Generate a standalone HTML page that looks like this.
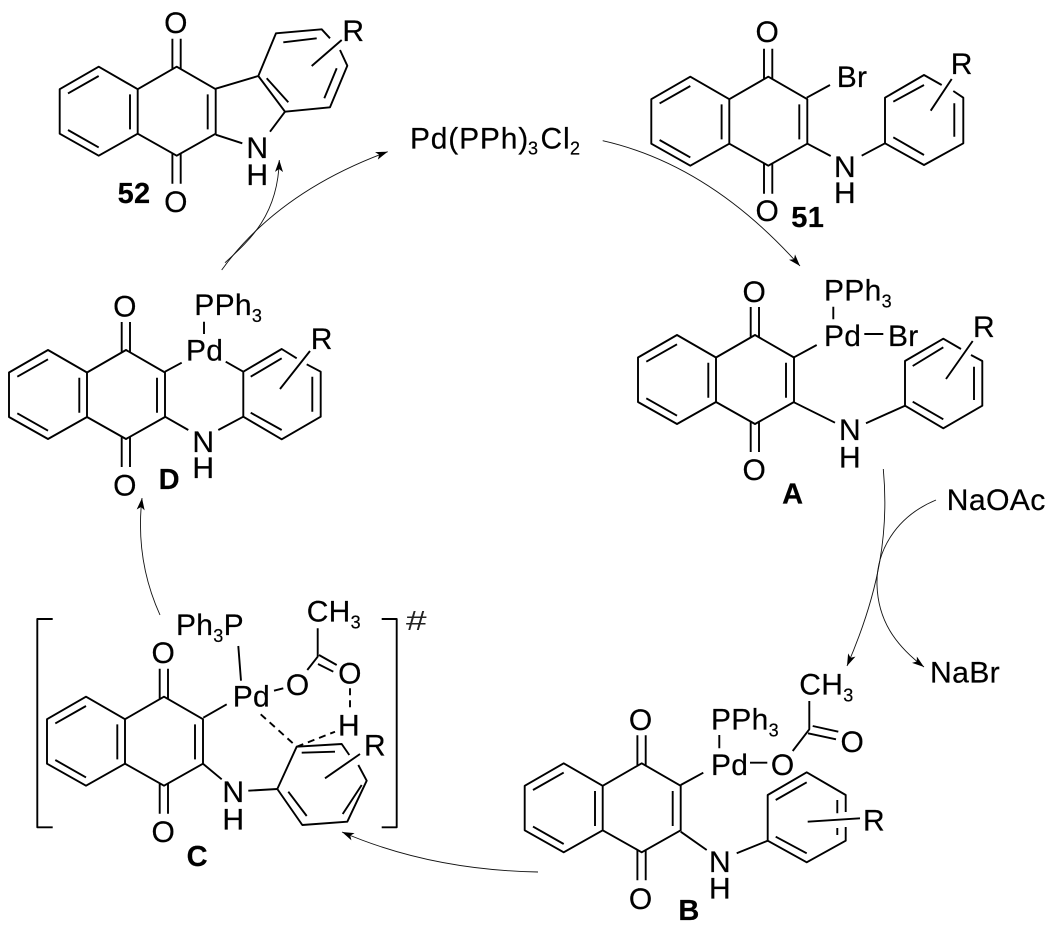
<!DOCTYPE html>
<html><head><meta charset="utf-8"><style>
html,body{margin:0;padding:0;background:#fff}
svg{display:block}
text{font-family:"Liberation Sans",sans-serif;font-size:30px;letter-spacing:.3px;fill:#000;stroke:#000;stroke-width:.2}
.b{font-weight:bold;font-size:29px;text-anchor:middle}
.m{text-anchor:middle}
.s{font-size:18px}
.bond{stroke:#000;stroke-width:1.9;fill:none;stroke-linejoin:round}
.arr{stroke:#111;stroke-width:.9;fill:none}
</style></head><body>
<svg width="1056" height="938" viewBox="0 0 1056 938" xmlns="http://www.w3.org/2000/svg">
<defs>
<marker id="h" markerUnits="userSpaceOnUse" markerWidth="14" markerHeight="10" refX="12" refY="4" orient="auto"><path d="M0,0L12,4L0,8L3,4z" fill="#000"/></marker>
<g id="nq">
<path d="M-39,22.5L-78,0L-117,22.5V67L-78,89L-39,67L0,89L39,67V22.5L0,0L-39,22.5V67"/>
<path d="M-108.7,26.7L-78,9.3M-108.7,63.3L-78,80.7M-46.7,27.7V62.7M31,27.7V62.7"/>
<path d="M-4.3,2V-28M4,2V-28M-4.3,87V117M4,87V117"/>
</g>
</defs>

<!-- 52 -->
<g class="bond">
<use href="#nq" x="176.7" y="66.7"/>
<path d="M215.7,88.7L258.3,76L276,33.3L321.7,29.3L330,38.3M340,50L347.3,65.7L330,107.3L285,111.7L258.3,76"/>
<path d="M266.7,78.3L288.3,102.3M283.3,42.3L316.7,38.3M336.7,68.3L324.3,98.3"/>
<path d="M285,111.7L270,131.7M215.7,134.7L242.3,143.3M311.7,66L341.7,40"/>
</g>
<text class="m" x="176" y="33">O</text><text class="m" x="176" y="212">O</text>
<text class="m" x="353.3" y="41">R</text><text class="m" x="257.3" y="158">N</text><text class="m" x="257.3" y="185">H</text>
<text class="b" x="134" y="203">52</text>

<!-- Pd cat -->
<text x="410" y="148.5" style="letter-spacing:.8px">Pd(PPh)<tspan class="s" x="528" y="154.5">3</tspan><tspan x="540.5" y="148.5">Cl</tspan><tspan class="s" x="570" y="154.5">2</tspan></text>

<!-- 51 -->
<g class="bond">
<use href="#nq" x="768.3" y="76.7"/>
<path d="M806.7,97.7L830,85M806.7,143.3L830.7,156M861.7,155.7L885,143.3"/>
<path d="M885,143.3V97.7L924,75L941.7,85M953.3,91L963.3,97.7V143.3L924,165L885,143.3"/>
<path d="M893.3,101.7L924,85M954.3,103.3V136.7M893.3,137.3L924,155M930.7,110.7L951.7,79"/>
</g>
<text class="m" x="767.3" y="42">O</text><text class="m" x="767.3" y="221">O</text>
<text x="836.7" y="87">Br</text><text class="m" x="845" y="177">N</text><text class="m" x="845" y="203">H</text>
<text class="m" x="961.7" y="74">R</text>
<text class="b" x="807.7" y="227">51</text>

<!-- A -->
<g class="bond">
<use href="#nq" x="755" y="335"/>
<path d="M833.3,306.7V319.3M864.3,334H883.3M794,357.3L816.7,345M794,402.3L835,422.7M866,423.3L905,405.7"/>
<path d="M905,405.7V361L943.3,338.7L961,349M971,355L982.3,361V405.7L943.3,428.3L905,405.7"/>
<path d="M912.7,366L943.3,347.3M974,366.7V400M912.7,401.7L943.3,419.3M946,379L972.7,341"/>
</g>
<text class="m" x="754.3" y="302">O</text><text class="m" x="754.3" y="480">O</text>
<text x="824" y="300.7">PPh<tspan class="s" dy="7">3</tspan></text>
<text x="824" y="346">Pd</text><text x="888" y="346">Br</text>
<text class="m" x="850" y="440">N</text><text class="m" x="850" y="467.5">H</text>
<text class="m" x="984" y="337">R</text>
<text class="b" x="792.7" y="503.5">A</text>

<!-- B -->
<g class="bond">
<use href="#nq" x="641.7" y="763.3"/>
<path d="M719.3,735V748.3M680.7,785L703.3,772.7M750,762.7H767.3M792.7,751L809.3,729.3V701M812.7,726L838.3,731.7M808,733.3L836,739.3"/>
<path d="M680.7,831.7L706.7,850M736.7,853.3L767.7,840.7"/>
<path d="M767.7,840.7V795L806.7,772.3L845.7,795V812M845.7,827V840.7L806.7,862.3L767.7,840.7"/>
<path d="M775.7,800L806.7,782.3M837.3,800V813.3M837.3,828V835M775.7,836.7L806.7,853.3M807.7,821.7L860,818.3"/>
</g>
<text class="m" x="640.7" y="730">O</text><text class="m" x="640.7" y="909">O</text>
<text x="711" y="729.3">PPh<tspan class="s" dy="7">3</tspan></text>
<text x="711" y="775">Pd</text><text class="m" x="782.7" y="775">O</text><text class="m" x="852.3" y="752">O</text>
<text x="799.3" y="694.3">CH<tspan class="s" dy="7">3</tspan></text>
<text class="m" x="720" y="872">N</text><text class="m" x="720" y="898.5">H</text>
<text class="m" x="874" y="830.5">R</text>
<text class="b" x="689" y="920">B</text>

<!-- C -->
<g class="bond">
<use href="#nq" x="164" y="696.7"/>
<path d="M52.7,619H37.3V827.3H52.7M381.7,619H396.7V827.3H381.7"/>
<path d="M238.3,646L241,680.7M203.3,717.7L226.7,704.3M274,690.7L283.3,688.3M307.3,670L317.7,656.7V628.3M319,655L336.7,665M318,664L333.3,671.7"/>
<path d="M203.3,764L221.7,779.3M248.3,790.7L277.3,789"/>
<path d="M277.3,789L296.7,746.7L341.7,744L349.3,755M358.3,765L366.7,780.7L347.3,821.7L302.3,825L277.3,789"/>
<path d="M301.7,752.7L335,751.7M361.7,785L342.7,814M288.3,791.7L306.7,816M325,778.3L360,754"/>
<path stroke-dasharray="7 5" d="M350,688.3V710M296.7,746.7L335,731.7M260.7,714.3L296.7,746.7"/>
</g>
<text class="m" x="163.3" y="663">O</text><text class="m" x="163.3" y="842">O</text>
<text x="176" y="635">Ph<tspan class="s" dy="7">3</tspan><tspan dy="-7">P</tspan></text>
<text x="232.7" y="706.7">Pd</text><text class="m" x="297.7" y="695">O</text><text class="m" x="350" y="683.5">O</text>
<text x="306.7" y="621.7">CH<tspan class="s" dy="7">3</tspan></text>
<text class="m" x="349" y="735.5">H</text><text class="m" x="375" y="755.5">R</text>
<text class="m" x="233.3" y="802">N</text><text class="m" x="233.3" y="829.5">H</text>
<text x="406" y="630" textLength="21" lengthAdjust="spacingAndGlyphs" style="font-size:28px;fill:#222;stroke:none">#</text>
<text class="b" x="197.3" y="866">C</text>

<!-- D -->
<g class="bond">
<use href="#nq" x="126" y="350"/>
<path d="M204,321.7V334M165,371.7L181.7,362.7M225.7,361.7L243.3,371.7M165,416.7L188.3,430M218.3,430L243.3,416.7"/>
<path d="M243.3,371.7V416.7L281.7,439.3L320.7,416.7V371.7L306.7,364.3M296.7,358.3L281.7,349L243.3,371.7"/>
<path d="M250.7,376.7L281.7,358.3M312.3,376.7V411.7M250.7,412.7L281.7,430M280,389L310,351"/>
</g>
<text class="m" x="125" y="316.5">O</text><text class="m" x="125" y="495.5">O</text>
<text x="194.3" y="315">PPh<tspan class="s" dy="7">3</tspan></text>
<text x="186" y="360.7">Pd</text><text class="m" x="321.7" y="349">R</text>
<text class="m" x="203.3" y="452">N</text><text class="m" x="203.3" y="478">H</text>
<text class="b" x="169.3" y="489">D</text>

<!-- reagents -->
<text x="946.7" y="510" textLength="99" lengthAdjust="spacingAndGlyphs">NaOAc</text>
<text x="930" y="682.7" textLength="70" lengthAdjust="spacingAndGlyphs">NaBr</text>

<!-- arrows -->
<path class="arr" marker-end="url(#h)" d="M221.7,270Q278,192 387.7,151.7"/>
<path class="arr" marker-end="url(#h)" d="M225,262.7C250,240 278,215 279.3,160"/>
<path class="arr" marker-end="url(#h)" d="M602.7,140.7Q710,165 800,266"/>
<path class="arr" marker-end="url(#h)" d="M883.3,469C889,530 880,590 847,666"/>
<path class="arr" marker-end="url(#h)" d="M936,500C895,517 876,552 877,585C878,620 895,645 924,667"/>
<path class="arr" marker-end="url(#h)" d="M538,872Q430,870 342,832"/>
<path class="arr" marker-end="url(#h)" d="M160,615Q135,560 142,498"/>
</svg>
</body></html>
